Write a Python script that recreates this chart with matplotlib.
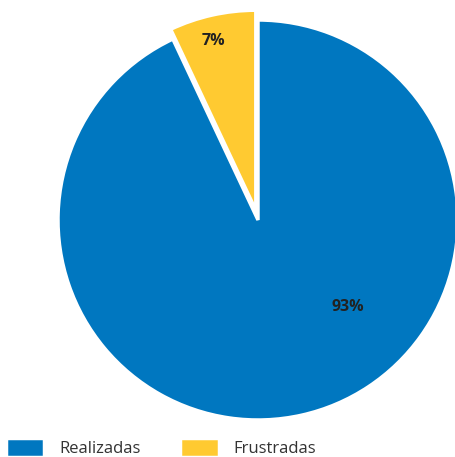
import matplotlib.pyplot as plt
import numpy as np

# data
labels = ["Realizadas", "Frustradas"]
values = [93, 7]
colors = ["#0077C0", "#FFCA31"]
explode = [0, 0.05]

fig = plt.figure(figsize=(4.55, 4.57), dpi=100)
ax = fig.add_axes([58 / 455, 37 / 457, 400 / 455, 400 / 457])

wedges, _ = ax.pie(values, colors=colors, explode=explode, startangle=90,
                   counterclock=False,
                   wedgeprops=dict(edgecolor="white", linewidth=2.5))
for w in wedges:
    w.set_clip_on(False)
ax.set_xlim(-1, 1)
ax.set_ylim(-1, 1)
ax.set_aspect("equal")

# percentage labels placed by hand like in the reference
label_pos = [(0.45, -0.435), (-0.225, 0.895)]
for v, (x, y) in zip(values, label_pos):
    ax.text(x, y, f"{v}%", ha="center", va="center", fontsize=11.5,
            fontweight="bold", color="#222222", family="Open Sans")

fig.legend(wedges, labels, loc="lower left", bbox_to_anchor=(4 / 455, -0.004),
           ncol=2, frameon=False, borderpad=0.1, borderaxespad=0,
           handlelength=2.3, handleheight=1.4,
           handletextpad=0.9, columnspacing=2.4,
           prop=dict(family="Open Sans", size=12), labelcolor="#333333")

fig.savefig("out.png", dpi=100)
